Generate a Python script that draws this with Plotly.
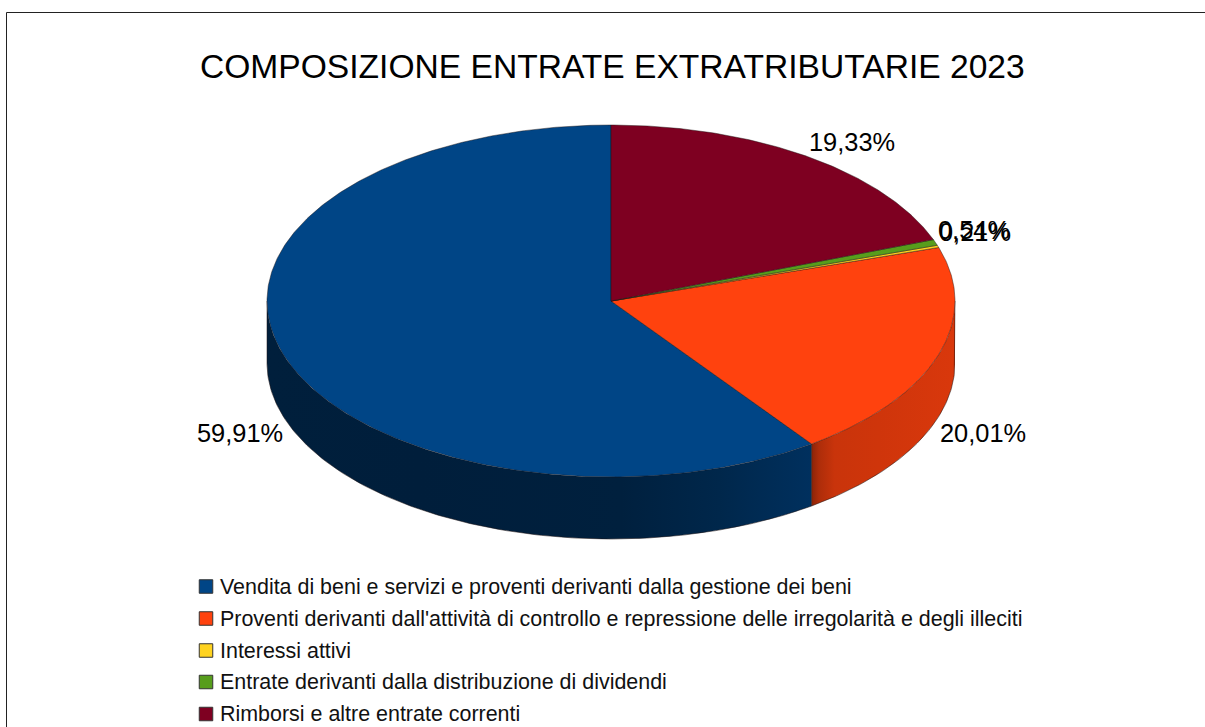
import numpy as np
import plotly.graph_objects as go

TITLE = "COMPOSIZIONE ENTRATE EXTRATRIBUTARIE 2023"
categories = [
    "Vendita di beni e servizi e proventi derivanti dalla gestione dei beni",
    "Proventi derivanti dall'attività di controllo e repressione delle irregolarità e degli illeciti",
    "Interessi attivi",
    "Entrate derivanti dalla distribuzione di dividendi",
    "Rimborsi e altre entrate correnti",
]
percent = [59.91, 20.01, 0.21, 0.54, 19.33]
colors = ["#004586", "#ff420e", "#ffd320", "#579d1c", "#7e0021"]
label_pos = [(240, 433), (983, 433), (974.5, 232), (973.5, 229.5), (852, 142)]

W, H = 1205, 727
CX, CY, RX, RY, DEPTH = 611.0, 301.0, 344.0, 176.0, 62.0
FONT = "Liberation Sans"
EDGE = "rgba(30,20,20,0.75)"


def pt(theta):
    """theta: degrees clockwise from 12 o'clock."""
    t = np.radians(theta)
    return CX + RX * np.sin(t), CY - RY * np.cos(t)


def shade(hex_color, f):
    r, g, b = (int(hex_color[i:i + 2], 16) for i in (1, 3, 5))
    return f"rgb({r * f:.0f},{g * f:.0f},{b * f:.0f})"


fig = go.Figure()

# Slice angle ranges: the pie runs counter-clockwise from the top in data order
total = sum(percent)
ranges = []
end = 360.0
for p in percent:
    start = end - p / total * 360.0
    ranges.append((start, end))
    end = start

# Shading of the side wall: relative position across the wall -> brightness factor
side_stops = {
    0: [(0.0, 0.45), (0.28, 0.44), (0.65, 0.46), (0.83, 0.56), (1.0, 0.70)],
    1: [(0.0, 0.55), (0.05, 0.68), (0.16, 0.79), (0.47, 0.81), (1.0, 0.85)],
}

# Side wall
for i, (a, b) in enumerate(ranges):
    lo, hi = max(a, 90.0), min(b, 270.0)
    if hi <= lo or i not in side_stops:
        continue
    xs, ys = pt(np.linspace(lo, hi, 200))
    stops = [[s, shade(colors[i], f)] for s, f in side_stops[i]]
    fig.add_trace(go.Scatter(
        x=np.r_[xs, xs[::-1], xs[0]], y=np.r_[ys, ys[::-1] + DEPTH, ys[0]],
        mode="lines", fill="toself",
        fillgradient=dict(type="horizontal", colorscale=stops,
                          start=float(xs.min()), stop=float(xs.max())),
        line=dict(color="rgba(0,0,0,0)", width=0), hoverinfo="skip", showlegend=False))

# Side wall outline
arc = np.linspace(90, 270, 240)
xs, ys = pt(arc)
fig.add_trace(go.Scatter(x=np.r_[xs[0], xs, xs[-1]], y=np.r_[ys[0], ys + DEPTH, ys[-1]],
                         mode="lines", line=dict(color=EDGE, width=0.7),
                         hoverinfo="skip", showlegend=False))
# Vertical edge between the blue and the orange walls
ex, ey = pt(ranges[0][0])
fig.add_trace(go.Scatter(x=[ex, ex], y=[ey, ey + DEPTH], mode="lines",
                         line=dict(color=EDGE, width=0.8),
                         hoverinfo="skip", showlegend=False))

# Top face
for (a, b), c, cat in zip(ranges, colors, categories):
    n = max(int((b - a) * 2), 3)
    xs, ys = pt(np.linspace(a, b, n))
    fig.add_trace(go.Scatter(
        x=np.r_[CX, xs, CX], y=np.r_[CY, ys, CY],
        mode="lines", fill="toself", fillcolor=c,
        line=dict(color=EDGE, width=0.6), name=cat,
        hoverinfo="skip", showlegend=False))

annotations = [dict(x=612.5, y=66, text=TITLE, showarrow=False, xanchor="center", yanchor="middle",
                    font=dict(family=FONT, size=33.6, color="#000000"))]
for p, (lx, ly) in zip(percent, label_pos):
    annotations.append(dict(x=lx, y=ly, text=f"{p:.2f}%".replace(".", ","), showarrow=False,
                            xanchor="center", yanchor="middle",
                            font=dict(family=FONT, size=25.4, color="#000000")))

# Legend rows
legend_y = [586.5, 618.5, 650.5, 682, 714]
fig.add_trace(go.Scatter(
    x=[206] * len(categories), y=legend_y, mode="markers",
    marker=dict(symbol="square", size=13.5, color=colors, line=dict(color="#333333", width=1)),
    hoverinfo="skip", showlegend=False))
for cat, ly in zip(categories, legend_y):
    annotations.append(dict(x=218, y=ly, text=cat, showarrow=False, xanchor="left", yanchor="middle",
                            font=dict(family=FONT, size=21.45, color="#111111")))

frame = dict(type="line", xref="x", yref="y", line=dict(color="#222222", width=1))
fig.update_layout(
    width=W, height=H, margin=dict(l=0, r=0, t=0, b=0), autosize=False,
    paper_bgcolor="#ffffff", plot_bgcolor="#ffffff", showlegend=False,
    xaxis=dict(range=[0, W], visible=False, fixedrange=True),
    yaxis=dict(range=[H, 0], visible=False, fixedrange=True),
    annotations=annotations,
    shapes=[dict(frame, x0=6.5, y0=12.5, x1=W, y1=12.5),
            dict(frame, x0=6.5, y0=12.5, x1=6.5, y1=H)],
)
fig.write_html("out.html", config=dict(displayModeBar=False),
               post_script="document.body.style.margin='0';document.body.style.overflow='hidden';")
